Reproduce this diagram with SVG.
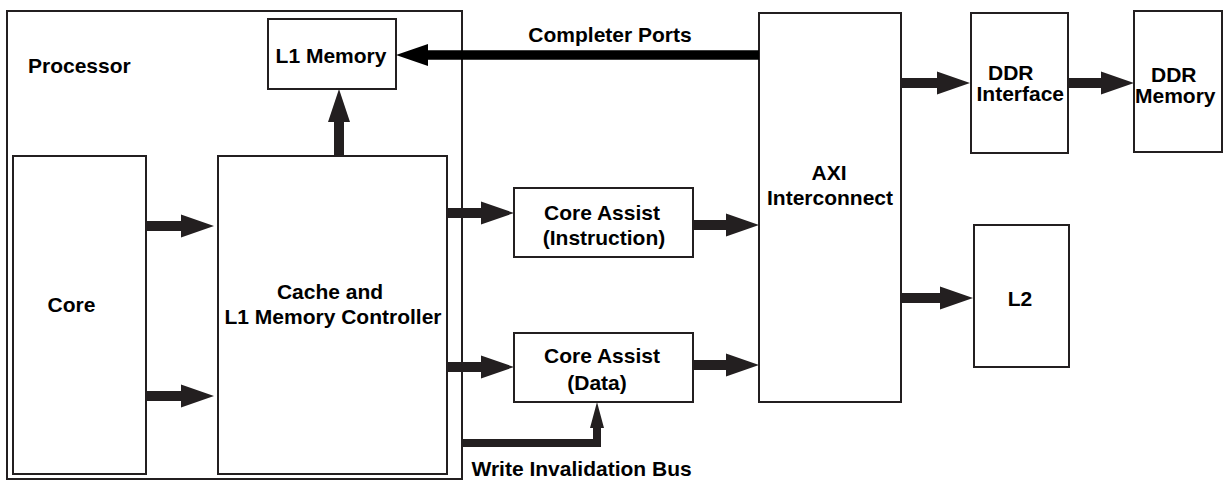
<svg xmlns="http://www.w3.org/2000/svg" width="1225" height="481" viewBox="0 0 1225 481">
<style>
.box{fill:#fff;stroke:#231f20;stroke-width:2}
.frame{fill:none;stroke:#231f20;stroke-width:2}
.t{font-family:"Liberation Sans",Arial,sans-serif;font-weight:bold;font-size:21px;fill:#000}
.m{text-anchor:middle}
.arr{fill:#231f20;stroke:none}
.blk{fill:#000;stroke:none}
</style>
<rect width="1225" height="481" fill="#fff"/>
<g id="processor">
<rect class="frame" x="7" y="11" width="455" height="468"/>
<text class="t" x="28" y="73">Processor</text>
</g>
<g id="l1memory">
<rect class="box" x="268" y="19" width="128" height="70"/>
<text class="t m" x="331" y="62.5">L1 Memory</text>
</g>
<g id="core">
<rect class="box" x="13" y="156" width="133" height="318"/>
<text class="t m" x="71.5" y="311.5">Core</text>
</g>
<g id="cache">
<rect class="box" x="218" y="156" width="229" height="318"/>
<text class="t m" x="330" y="299">Cache and</text>
<text class="t m" x="333" y="324">L1 Memory Controller</text>
</g>
<g id="assist-instr">
<rect class="box" x="514" y="188" width="179" height="69"/>
<text class="t m" x="602" y="220">Core Assist</text>
<text class="t m" x="604" y="245">(Instruction)</text>
</g>
<g id="assist-data">
<rect class="box" x="514" y="333" width="179" height="69"/>
<text class="t m" x="602" y="363">Core Assist</text>
<text class="t m" x="597" y="390">(Data)</text>
</g>
<g id="axi">
<rect class="box" x="759" y="13" width="142" height="389"/>
<text class="t m" x="829" y="180">AXI</text>
<text class="t m" x="830" y="205">Interconnect</text>
</g>
<g id="ddr-interface">
<rect class="box" x="971" y="13" width="97" height="140"/>
<text class="t" x="988" y="80">DDR</text>
<text class="t" x="976.5" y="100.7">Interface</text>
</g>
<g id="ddr-memory">
<rect class="box" x="1134" y="11" width="88" height="141"/>
<text class="t" x="1151" y="81.7">DDR</text>
<text class="t" x="1135" y="102.7">Memory</text>
</g>
<g id="l2">
<rect class="box" x="974" y="225" width="95" height="142"/>
<text class="t m" x="1020" y="306">L2</text>
</g>
<g id="connectors">
<path class="arr" d="M146,221 H181 V214.5 L214,226 L181,237.5 V231 H146 Z"/>
<path class="arr" d="M146,391 H181 V384.5 L214,396 L181,407.5 V401 H146 Z"/>
<path class="arr" d="M447,208 H481 V201.5 L514,213 L481,224.5 V218 H447 Z"/>
<path class="arr" d="M447,362 H481 V355.5 L514,367 L481,378.5 V372 H447 Z"/>
<path class="arr" d="M693,220 H726 V213.5 L759,225 L726,236.5 V230 H693 Z"/>
<path class="arr" d="M693,360 H726 V353.5 L759,365 L726,376.5 V370 H693 Z"/>
<path class="arr" d="M901,78 H937 V71.5 L970,83 L937,94.5 V88 H901 Z"/>
<path class="arr" d="M1068,78 H1101 V71.5 L1134,83 L1101,94.5 V88 H1068 Z"/>
<path class="arr" d="M901,293 H940 V286.5 L973,298 L940,309.5 V303 H901 Z"/>
<path class="arr" d="M334,156 V122 H328 L339,89 L350,122 H344 V156 Z"/>
<path class="blk" d="M759,50.3 H428 V44 L396,55 L428,66 V59.7 H759 Z"/>
<path class="arr" d="M462,439 H593 V428 H590 L597,402 L604,428 H601 V447 H462 Z"/>
<text class="t m" x="610" y="41.7">Completer Ports</text>
<text class="t" x="471.5" y="476">Write Invalidation Bus</text>
</g>
</svg>
